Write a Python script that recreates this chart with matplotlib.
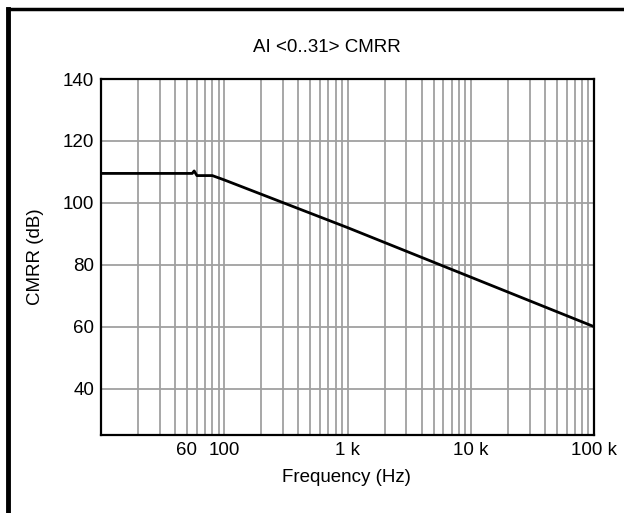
import matplotlib
matplotlib.use("Agg")
import matplotlib.pyplot as plt
from matplotlib.lines import Line2D

plt.rcParams['font.family'] = ['Liberation Sans', 'DejaVu Sans']

# CMRR curve
freq = [10, 55, 57, 60, 80, 100, 1000, 10000, 100000]
cmrr = [109.5, 109.5, 110.3, 108.8, 108.8, 107.4, 92, 76, 60]

xtick_vals = [60, 100, 1000, 10000, 100000]
xtick_labels = ["60", "100", "1 k", "10 k", "100 k"]
ytick_vals = [40, 60, 80, 100, 120, 140]

fs = 13.5

fig = plt.figure(figsize=(6.24, 5.13), dpi=100)
ax = fig.add_axes([101/624, 1-435/513, 493/624, 356/513])

ax.set_xscale('log')
ax.set_xlim(10, 100000)
ax.set_ylim(25, 140)

# grid lines: every integer multiple inside each decade
grid_x = []
for d in [10, 100, 1000, 10000]:
    for m in range(2, 11):
        grid_x.append(d*m)
for gx in grid_x[:-1]:
    ax.axvline(gx, color='#a0a0a0', lw=1.3, zorder=1)
for gy in ytick_vals[:-1]:
    ax.axhline(gy, color='#a0a0a0', lw=1.3, zorder=1)

ax.plot(freq, cmrr, color='black', lw=2, zorder=3)

ax.set_xticks(xtick_vals)
ax.set_xticklabels(xtick_labels)
ax.xaxis.set_minor_locator(matplotlib.ticker.NullLocator())
ax.set_yticks(ytick_vals)
ax.tick_params(length=0, labelsize=fs, pad=5)
lbl60 = ax.get_xticklabels()[0]
lbl60.set_horizontalalignment('right')

for s in ax.spines.values():
    s.set_linewidth(1.6)

fig.text(327/624, 1-48/513, "AI <0..31> CMRR", fontsize=fs, ha='center', va='center')
ax.set_xlabel("Frequency (Hz)", fontsize=fs, va='center')
ax.xaxis.set_label_coords(0.497, (435-477)/356)
ax.set_ylabel("CMRR (dB)", fontsize=fs, va='center')
ax.yaxis.set_label_coords((36-101)/493, 0.5)

# frame round the figure (left and top edges visible)
fig.add_artist(Line2D([8/624, 8/624], [0, 1-9/513], transform=fig.transFigure, color='black', lw=3.5))
fig.add_artist(Line2D([8/624, 1], [1-9/513, 1-9/513], transform=fig.transFigure, color='black', lw=2.5))

fig.savefig("out.png", dpi=100)
